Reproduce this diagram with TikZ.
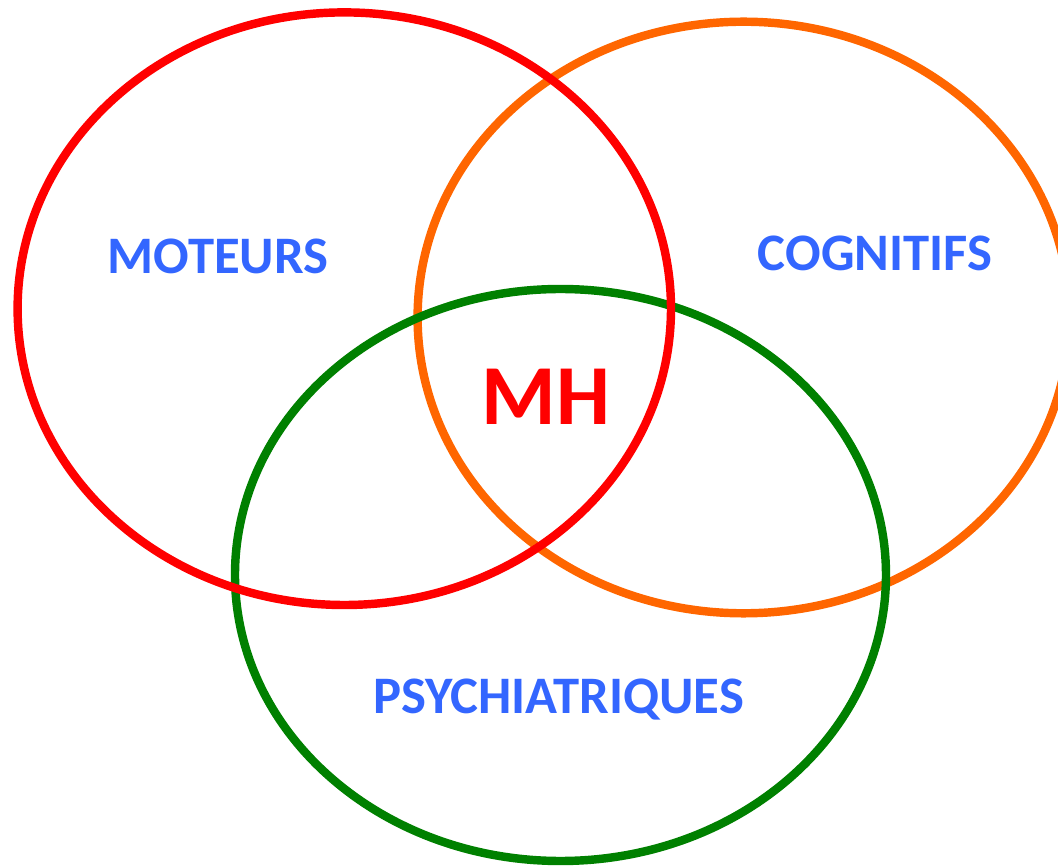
\documentclass[tikz,border=0pt]{standalone}
\usepackage{fontspec}
\setmainfont{Carlito}
\definecolor{lblblue}{HTML}{3366FF}
\definecolor{mhred}{HTML}{FF0000}
\definecolor{cogorange}{HTML}{FF6600}
\definecolor{psygreen}{HTML}{008000}

\begin{document}
\begin{tikzpicture}[ring/.style={line width=2.4pt},
  field/.style={text=lblblue, font=\bfseries\fontsize{15}{17}\selectfont, text height=0.335cm, text depth=0pt, inner sep=0pt},
  core/.style={text=mhred, font=\bfseries\fontsize{24.3}{28}\selectfont, text height=0.55cm, text depth=0pt, inner sep=0pt}]
\useasboundingbox (0,0) rectangle (10.58,8.68);
\draw[ring, cogorange] (7.436,5.505) ellipse [x radius=3.26, y radius=2.958];
\draw[ring, psygreen] (5.605,2.93) ellipse [x radius=3.255, y radius=2.86];
\draw[ring, mhred] (3.443,5.593) ellipse [x radius=3.267, y radius=2.963];

\node[field] (moteurs) at (2.18,6.11) {MOTEURS};
\node[field] (cognitifs) at (8.75,6.145) {COGNITIFS};
\node[field] (psy) at (5.585,1.71) {PSYCHIATRIQUES};
\node[core] (mh) at (5.46,4.705) {MH};
\end{tikzpicture}
\end{document}
